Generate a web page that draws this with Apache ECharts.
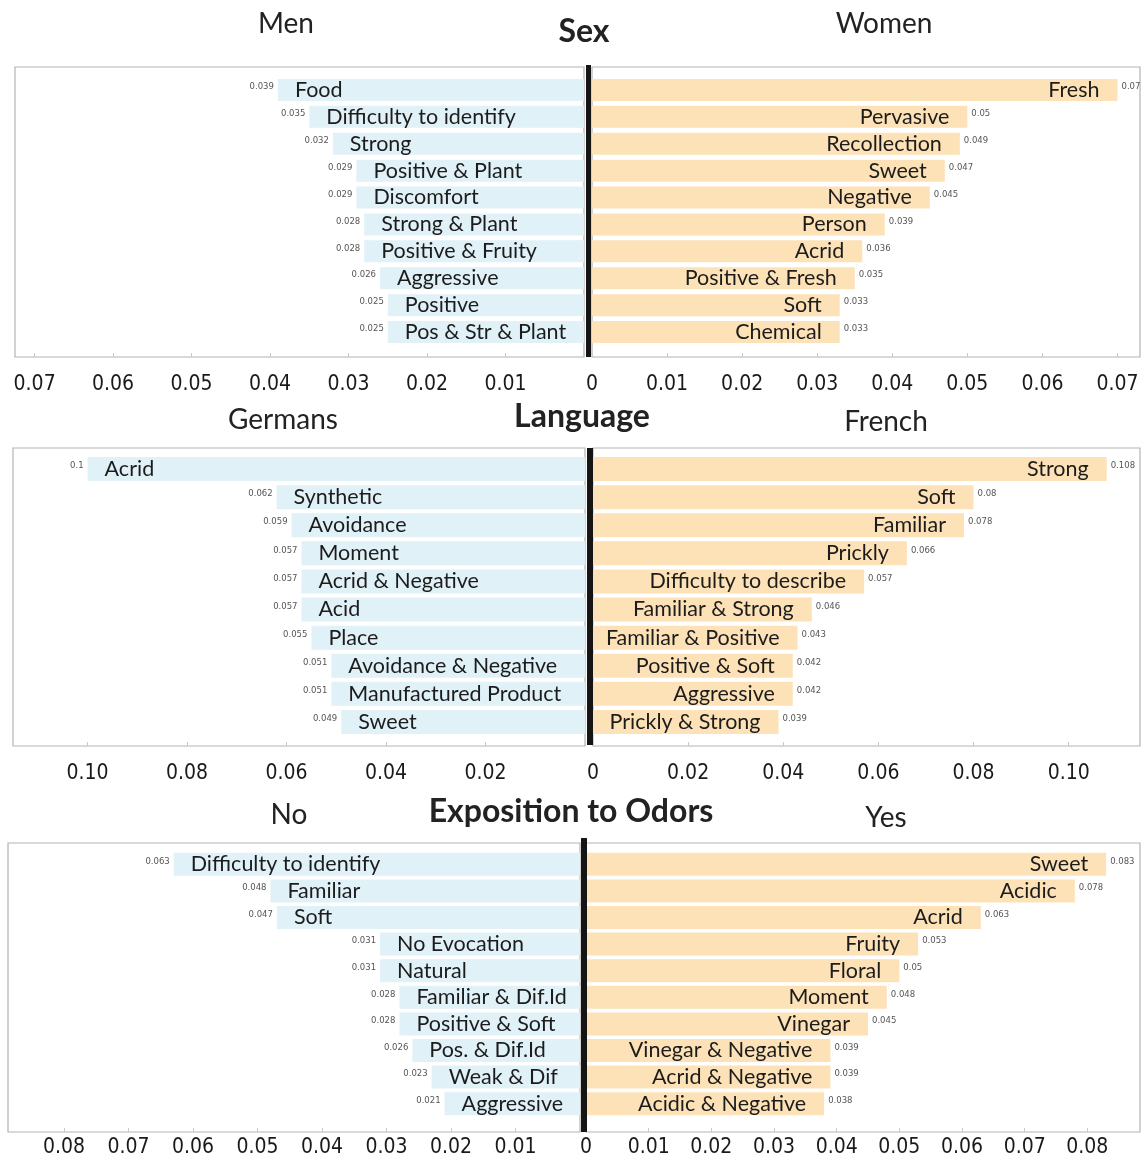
<!DOCTYPE html>
<html><head><meta charset="utf-8">
<script src="https://cdn.jsdelivr.net/npm/echarts@6/dist/echarts.min.js"></script>
<style>html,body{margin:0;padding:0;background:#fff}#c{width:1143px;height:1159px}</style>
</head><body><div id="c"></div>
<script>
// ---------- DATA ----------
const menCats = ['Food','Difficulty to identify','Strong','Positive & Plant','Discomfort','Strong & Plant','Positive & Fruity','Aggressive','Positive','Pos & Str & Plant'];
const menVals = [0.039,0.035,0.032,0.029,0.029,0.028,0.028,0.026,0.025,0.025];
const womenCats = ['Fresh','Pervasive','Recollection','Sweet','Negative','Person','Acrid','Positive & Fresh','Soft','Chemical'];
const womenVals = [0.07,0.05,0.049,0.047,0.045,0.039,0.036,0.035,0.033,0.033];
const germanCats = ['Acrid','Synthetic','Avoidance','Moment','Acrid & Negative','Acid','Place','Avoidance & Negative','Manufactured Product','Sweet'];
const germanVals = [0.1,0.062,0.059,0.057,0.057,0.057,0.055,0.051,0.051,0.049];
const frenchCats = ['Strong','Soft','Familiar','Prickly','Difficulty to describe','Familiar & Strong','Familiar & Positive','Positive & Soft','Aggressive','Prickly & Strong'];
const frenchVals = [0.108,0.08,0.078,0.066,0.057,0.046,0.043,0.042,0.042,0.039];
const noCats = ['Difficulty to identify','Familiar','Soft','No Evocation','Natural','Familiar & Dif.Id','Positive & Soft','Pos. & Dif.Id','Weak & Dif','Aggressive'];
const noVals = [0.063,0.048,0.047,0.031,0.031,0.028,0.028,0.026,0.023,0.021];
const yesCats = ['Sweet','Acidic','Acrid','Fruity','Floral','Moment','Vinegar','Vinegar & Negative','Acrid & Negative','Acidic & Negative'];
const yesVals = [0.083,0.078,0.063,0.053,0.05,0.048,0.045,0.039,0.039,0.038];

const panelTitles = ['Sex','Language','Exposition to Odors'];
const leftNames = ['Men','Germans','No'];
const rightNames = ['Women','French','Yes'];
const tickIntervals = [0.01,0.02,0.01];

// ---------- LAYOUT ----------
const panels = [
  {lc:menCats, lv:menVals, rc:womenCats, rv:womenVals,
   L:{x:15,w:569,max:0.0725}, R:{x:592,w:548,max:0.073}, top:76.5, h:269, boxTop:67, boxBot:357,
   line:{x:586,w:5,y:65,y2:357}, barW:22, labMargin:17,
   tl:[286,24], tc:[584,32], tr:[884,24], leftBoxX:15, rightBoxX:592},
  {lc:germanCats, lv:germanVals, rc:frenchCats, rv:frenchVals,
   L:{x:13,w:572,max:0.115}, R:{x:593,w:547,max:0.115}, top:455, h:281, boxTop:448, boxBot:746,
   line:{x:587,w:6,y:448,y2:745}, barW:24, labMargin:17,
   tl:[283,420], tc:[582,417], tr:[886,422], leftBoxX:13, rightBoxX:593},
  {lc:noCats, lv:noVals, rc:yesCats, rv:yesVals,
   L:{x:8,w:572,max:0.0887}, R:{x:586,w:554,max:0.0884}, top:851, h:266, boxTop:843, boxBot:1132,
   line:{x:581,w:6,y:838,y2:1132}, barW:23, labMargin:5,
   tl:[289,815], tc:[571,812], tr:[886,818], leftBoxX:8, rightBoxX:586}
];

const FONT = 'Lato, "Open Sans", sans-serif';
const TICKFONT = '"Liberation Sans Narrow", "DejaVu Sans Condensed", "Liberation Sans", sans-serif';
const BLUE = '#e1f1f8';
const ORANGE = '#fde2b7';

const grid=[], xAxis=[], yAxis=[], series=[], graphic=[];

function fmt(interval){
  return function(v){
    const k = v/interval;
    if (Math.abs(k-Math.round(k))>1e-6) return '';
    if (Math.abs(v)<1e-9) return '0';
    return v.toFixed(2);
  };
}

panels.forEach((p,i)=>{
  const gi = grid.length;
  [p.L,p.R].forEach((g,side)=>{
    grid.push({left:g.x, width:g.w, top:p.top, height:p.h, containLabel:false});
    const isLeft = side===0;
    const f = fmt(tickIntervals[i]);
    xAxis.push({
      type:'value', gridIndex:gi+side, min:0, max:g.max, interval:tickIntervals[i], inverse:isLeft,
      offset:p.boxBot-(p.top+p.h),
      splitLine:{show:false},
      axisLine:{show:false},
      axisTick:{show:true, inside:true, length:4, lineStyle:{color:'#c8c8c8'}},
      axisLabel:{show:true, margin:p.labMargin, fontFamily:TICKFONT, fontSize:21, color:'#1a1a1a',
        showMaxLabel:false,
        formatter:(v)=> (isLeft && Math.abs(v)<1e-9) ? '' : f(v)}
    });
    yAxis.push({type:'category', gridIndex:gi+side, inverse:true, data: isLeft?p.lc:p.rc, show:false});
    const vals = isLeft?p.lv:p.rv;
    series.push({
      type:'bar', xAxisIndex:gi+side, yAxisIndex:gi+side, data:vals, barWidth:p.barW, barGap:'-100%',
      itemStyle:{color:isLeft?BLUE:ORANGE}, silent:true,
      label:{show:true, position:isLeft?'insideLeft':'insideRight', distance:isLeft?17:18,
        formatter:(pr)=> (isLeft?p.lc:p.rc)[pr.dataIndex],
        fontFamily:FONT, fontSize:21.5, color:'#1c1c1c'}
    });
    series.push({
      type:'bar', xAxisIndex:gi+side, yAxisIndex:gi+side, data:vals, barWidth:p.barW, barGap:'-100%',
      itemStyle:{color:'rgba(0,0,0,0)'}, silent:true,
      label:{show:true, position:isLeft?'left':'right', distance:4, offset:[0,-3],
        formatter:(pr)=> String(pr.value), fontFamily:'"DejaVu Sans", sans-serif', fontSize:8.5, color:'#555'}
    });
  });
  // frames
  graphic.push({type:'rect', silent:true, z:0, shape:{x:p.leftBoxX, y:p.boxTop, width:p.L.x+p.L.w-p.leftBoxX, height:p.boxBot-p.boxTop},
    style:{fill:null, stroke:'#b4b4b4', lineWidth:1.2}});
  graphic.push({type:'rect', silent:true, z:0, shape:{x:p.rightBoxX, y:p.boxTop, width:1140-p.rightBoxX, height:p.boxBot-p.boxTop},
    style:{fill:null, stroke:'#b4b4b4', lineWidth:1.2}});
  graphic.push({type:'rect', silent:true, z:100, shape:{x:p.line.x, y:p.line.y, width:p.line.w, height:p.line.y2-p.line.y},
    style:{fill:'#151515'}});
  // titles
  graphic.push({type:'text', silent:true, x:p.tl[0], y:p.tl[1], style:{text:leftNames[i], font:'28px '+FONT, fill:'#222', align:'center', verticalAlign:'middle'}});
  graphic.push({type:'text', silent:true, x:p.tc[0], y:p.tc[1], style:{text:panelTitles[i], font:'bold 32px '+FONT, fill:'#222', align:'center', verticalAlign:'middle'}});
  graphic.push({type:'text', silent:true, x:p.tr[0], y:p.tr[1], style:{text:rightNames[i], font:'28px '+FONT, fill:'#222', align:'center', verticalAlign:'middle'}});
});

const chart = echarts.init(document.getElementById('c'), null, {renderer:'canvas'});
chart.setOption({animation:false, backgroundColor:'#fff', grid, xAxis, yAxis, series, graphic});
</script></body></html>
